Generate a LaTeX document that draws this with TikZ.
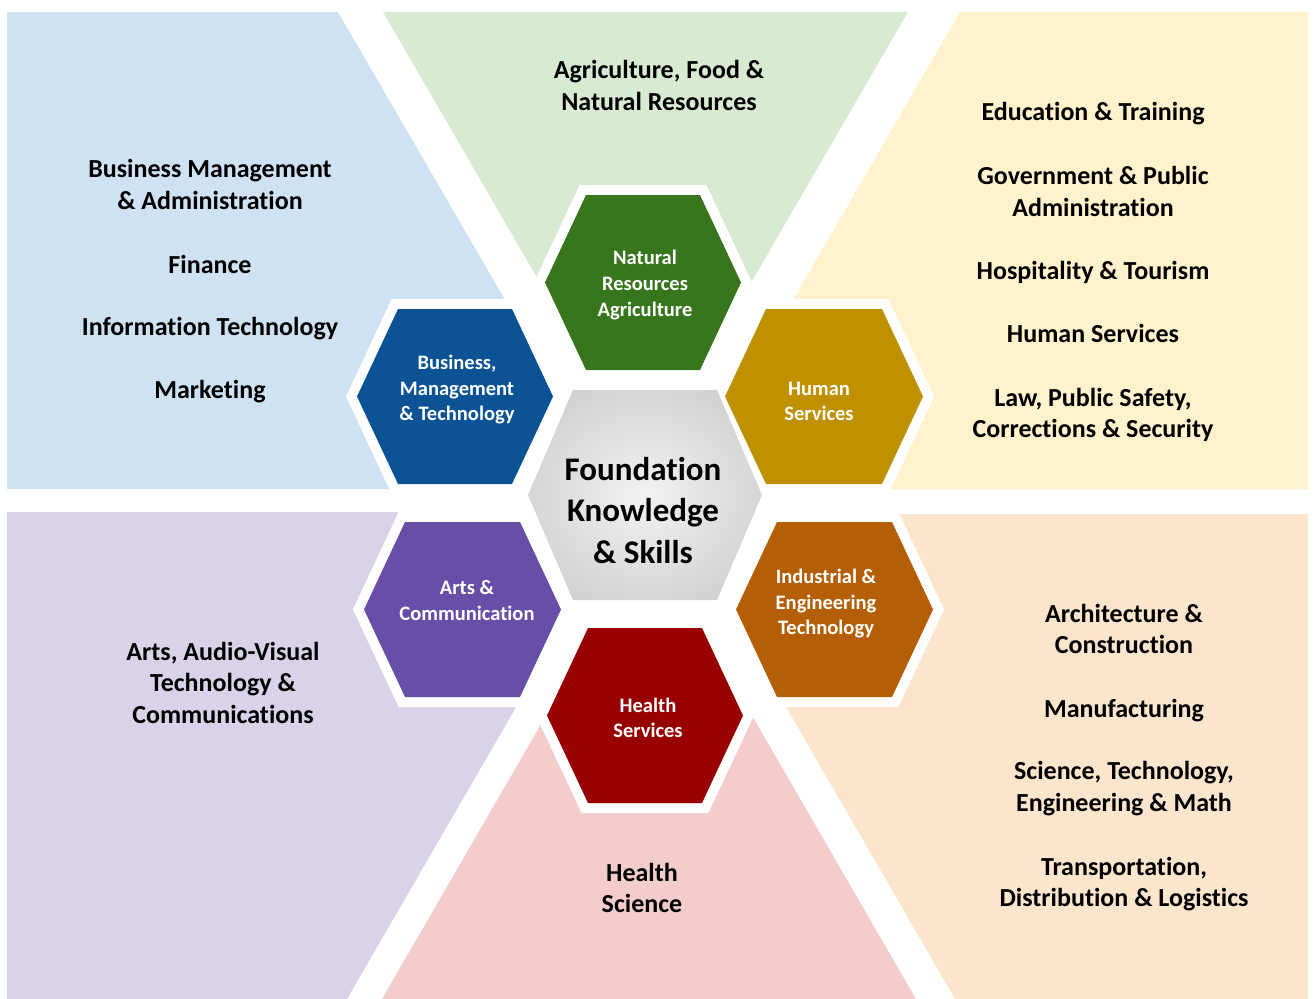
\documentclass[tikz,border=0pt]{standalone}
\usepackage{fontspec}
\setmainfont{Carlito}[Ligatures=NoCommon, RawFeature={-liga;-clig;-calt}]
\definecolor{pBlue}{HTML}{CFE2F3}
\definecolor{pGreen}{HTML}{D9EAD3}
\definecolor{pYellow}{HTML}{FFF2CC}
\definecolor{pPurple}{HTML}{D9D2E9}
\definecolor{pPink}{HTML}{F4CCCC}
\definecolor{pPeach}{HTML}{FCE5CD}
\definecolor{hGreen}{HTML}{38761D}
\definecolor{hBlue}{HTML}{0B5394}
\definecolor{hGold}{HTML}{BF9000}
\definecolor{hPurple}{HTML}{674EA7}
\definecolor{hOrange}{HTML}{B45F06}
\definecolor{hRed}{HTML}{990000}
\definecolor{cA}{HTML}{F2F2F2}
\definecolor{cB}{HTML}{D2D2D2}
\definecolor{cC}{HTML}{B6B6B6}
\definecolor{cD}{HTML}{A6A6A6}
\pgfdeclareradialshading{coreshade}{\pgfpoint{0bp}{0bp}}{color(0bp)=(cA); color(28bp)=(cB); color(50bp)=(cC); color(75bp)=(cD)}
\tikzset{
  hexborder/.style={draw=white, fill=white, line width=15pt, line join=miter},
  outerlbl/.style={anchor=base, inner sep=0pt, text=black, font=\bfseries\fontsize{19.5}{24}\selectfont},
  hexlbl/.style={anchor=base, inner sep=0pt, text=white, font=\bfseries\fontsize{15.4}{19}\selectfont},
  corelbl/.style={anchor=base, inner sep=0pt, text=black, font=\bfseries\fontsize{24.75}{30}\selectfont}
}
\begin{document}
\begin{tikzpicture}[x=0.75pt,y=-0.75pt]
\useasboundingbox (0,0) rectangle (1314,999);
% background panels
\fill[pBlue]   (7,12) -- (338,12) -- (508,305) -- (455,396) -- (390,489) -- (7,489) -- cycle;
\fill[pGreen]  (383,12) -- (908,12) -- (712,350) -- (643,282) -- (579,350) -- cycle;
\fill[pYellow] (960,12) -- (1308,12) -- (1308,489) -- (891,489) -- (824,396) -- (790,305) -- cycle;
\fill[pPurple] (7,512) -- (398,512) -- (462,610) -- (526,690) -- (347,999) -- (7,999) -- cycle;
\fill[pPink]   (382,999) -- (555,700) -- (645,715) -- (743,700) -- (916,999) -- cycle;
\fill[pPeach]  (898,514) -- (1308,514) -- (1308,999) -- (955,999) -- (782,700) -- (834,610) -- cycle;
% white borders of the hexagons
\foreach \cx/\cy/\w/\h/\i in {643/282.5/196/175/41, 455/396.5/196/175/41, 824/396.5/198/175/41, 462.5/609.5/197/175/41, 834.5/609.5/197/175/41, 645/715.5/196/175/41, 645/495/234/210/45}{
  \path[hexborder] ({\cx-\w/2},\cy) -- ({\cx-\w/2+\i},{\cy-\h/2}) -- ({\cx+\w/2-\i},{\cy-\h/2}) -- ({\cx+\w/2},\cy) -- ({\cx+\w/2-\i},{\cy+\h/2}) -- ({\cx-\w/2+\i},{\cy+\h/2}) -- cycle;
}
% coloured hexagons
\foreach \cx/\cy/\w/\h/\i/\col in {643/282.5/196/175/41/hGreen, 455/396.5/196/175/41/hBlue, 824/396.5/198/175/41/hGold, 462.5/609.5/197/175/41/hPurple, 834.5/609.5/197/175/41/hOrange, 645/715.5/196/175/41/hRed}{
  \fill[\col] ({\cx-\w/2},\cy) -- ({\cx-\w/2+\i},{\cy-\h/2}) -- ({\cx+\w/2-\i},{\cy-\h/2}) -- ({\cx+\w/2},\cy) -- ({\cx+\w/2-\i},{\cy+\h/2}) -- ({\cx-\w/2+\i},{\cy+\h/2}) -- cycle;
}
\shade[shading=coreshade] (528,495) -- (573,390) -- (717,390) -- (762,495) -- (717,600) -- (573,600) -- cycle;
% centre text
\node[corelbl] (c1) at (643,480) {Foundation};
\node[corelbl] (c2) at (643,521.5) {Knowledge};
\node[corelbl] (c3) at (643,563) {\& Skills};
% hexagon texts
\node[hexlbl] (g1) at (645,264) {Natural};
\node[hexlbl] (g2) at (645,290.5) {Resources};
\node[hexlbl] (g3) at (645,316) {Agriculture};
\node[hexlbl] (b1) at (457,369) {Business,};
\node[hexlbl] (b2) at (457,395) {Management};
\node[hexlbl] (b3) at (457,420) {\& Technology};
\node[hexlbl] (y1) at (819,395) {Human};
\node[hexlbl] (y2) at (819,420) {Services};
\node[hexlbl] (p1) at (467,594) {Arts \&};
\node[hexlbl] (p2) at (467,620) {Communication};
\node[hexlbl] (o1) at (826,583) {Industrial \&};
\node[hexlbl] (o2) at (826,609) {Engineering};
\node[hexlbl] (o3) at (826,634) {Technology};
\node[hexlbl] (r1) at (648,712) {Health};
\node[hexlbl] (r2) at (648,737) {Services};
% outer panel texts
\node[outerlbl] (tb1) at (210,177) {Business Management};
\node[outerlbl] (tb2) at (210,209) {\& Administration};
\node[outerlbl] (tb3) at (210,273) {Finance};
\node[outerlbl] (tb4) at (210,335) {Information Technology};
\node[outerlbl] (tb5) at (210,398) {Marketing};
\node[outerlbl] (tg1) at (659,79) {Agriculture, Food \&};
\node[outerlbl] (tg2) at (659,111) {Natural Resources};
\node[outerlbl] (ty1) at (1093,121) {Education \& Training};
\node[outerlbl] (ty2) at (1093,184) {Government \& Public};
\node[outerlbl] (ty3) at (1093,216) {Administration};
\node[outerlbl] (ty4) at (1093,279) {Hospitality \& Tourism};
\node[outerlbl] (ty5) at (1093,342) {Human Services};
\node[outerlbl] (ty6) at (1093,406) {Law, Public Safety,};
\node[outerlbl] (ty7) at (1093,437) {Corrections \& Security};
\node[outerlbl] (tp1) at (223,660) {Arts, Audio-Visual};
\node[outerlbl] (tp2) at (223,691.5) {Technology \&};
\node[outerlbl] (tp3) at (223,723) {Communications};
\node[outerlbl] (tk1) at (642,881) {Health};
\node[outerlbl] (tk2) at (642,912) {Science};
\node[outerlbl] (to1) at (1124,622) {Architecture \&};
\node[outerlbl] (to2) at (1124,653) {Construction};
\node[outerlbl] (to3) at (1124,717) {Manufacturing};
\node[outerlbl] (to4) at (1124,779) {Science, Technology,};
\node[outerlbl] (to5) at (1124,811) {Engineering \& Math};
\node[outerlbl] (to6) at (1124,875) {Transportation,};
\node[outerlbl] (to7) at (1124,906) {Distribution \& Logistics};
\end{tikzpicture}
\end{document}
